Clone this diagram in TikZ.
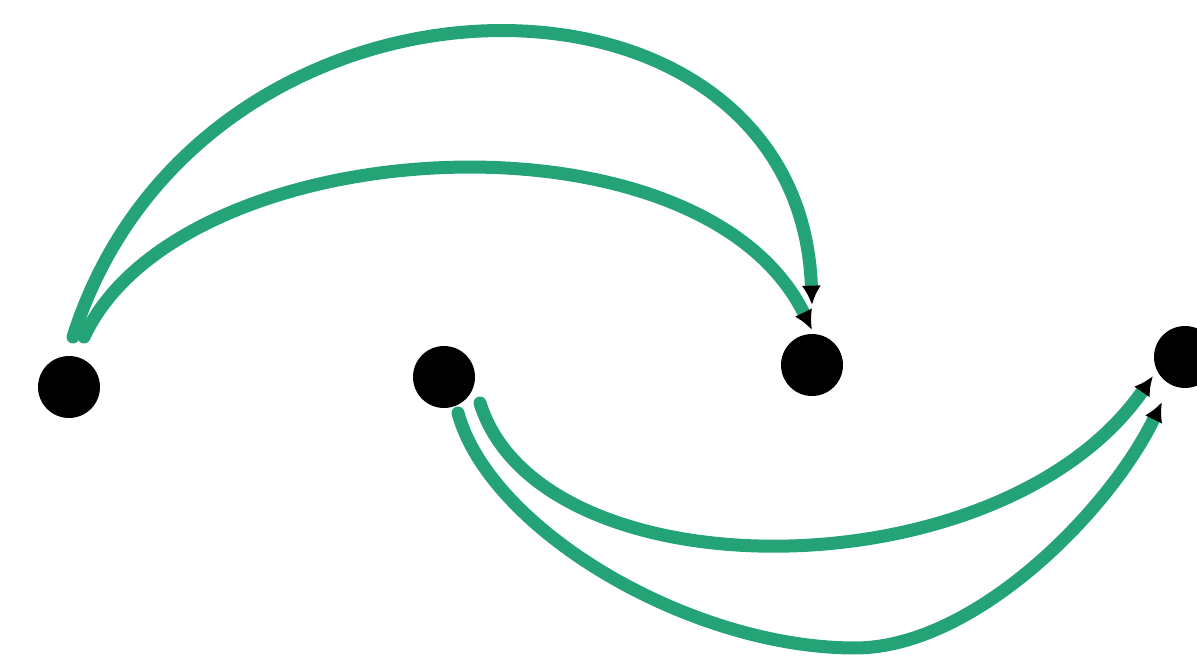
\documentclass[tikz,border=0pt]{standalone}
\usetikzlibrary{arrows.meta,calc}
\definecolor{arcgreen}{RGB}{36,164,118}
\begin{document}
\begin{tikzpicture}[x=0.02cm,y=-0.02cm,
  dot/.style={circle,fill=black,inner sep=0pt,minimum size=1.24cm},
  arc/.style={draw=arcgreen,line width=7.4pt,line cap=round,
    -{Latex[black,length=11pt,width=11pt]}}]
\useasboundingbox (0,0) rectangle (1197,668);
\node[dot] (d1) at (69,387) {};
\node[dot] (d2) at (444,377) {};
\node[dot] (d3) at (812,365) {};
\node[dot] (d4) at (1185,357) {};
\coordinate (botLow) at (855,648);
% top pair
\draw[arc] ($(d1)+(4,-50)$) .. controls (200,-63) and (800,-63) .. ($(d3)+(0,-60)$);
\draw[arc] ($(d1)+(15,-50)$) .. controls (180,130) and (700,100) .. ($(d3)+(0,-35)$);
% bottom pair
\draw[arc] ($(d2)+(36,26)$) .. controls (540,596) and (1000,596) .. ($(d4)+(-32,19)$);
\draw[arc] ($(d2)+(14,36)$) .. controls (490,530) and (690,648) .. (botLow)
  .. controls (975,648) and (1110,510) .. ($(d4)+(-23,45)$);
\end{tikzpicture}
\end{document}
